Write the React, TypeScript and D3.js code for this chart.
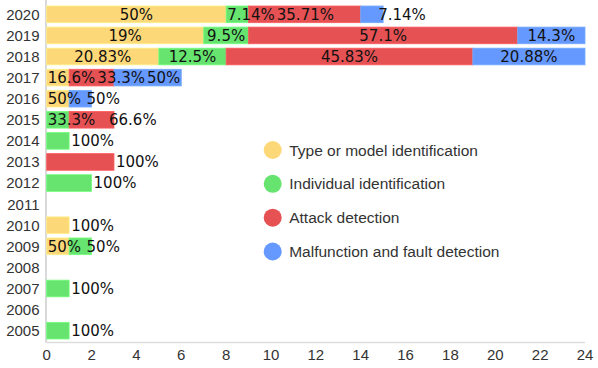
import React, { useEffect, useRef } from 'react';
import * as d3 from 'd3';

const years = ['2020', '2019', '2018', '2017', '2016', '2015', '2014', '2013', '2012', '2011', '2010', '2009', '2008', '2007', '2006', '2005'];

const seriesNames = ['Type or model identification', 'Individual identification', 'Attack detection', 'Malfunction and fault detection'];
const seriesColors = ['#fdd878', '#66e46f', '#e65154', '#6699ff'];

const typeModel = [8, 7, 5, 1, 1, 0, 0, 0, 0, 0, 1, 1, 0, 0, 0, 0];
const individual = [1, 2, 3, 0, 0, 1, 1, 0, 2, 0, 0, 1, 0, 1, 0, 1];
const attack = [5, 12, 11, 2, 0, 2, 0, 3, 0, 0, 0, 0, 0, 0, 0, 0];
const malfunction = [1, 3, 5, 3, 1, 0, 0, 0, 0, 0, 0, 0, 0, 0, 0, 0];

const typeLabels = ['50%', '19%', '20.83%', '16.6%', '50%', '', '', '', '', '', '100%', '50%', '', '', '', ''];
const indivLabels = ['7.14%', '9.5%', '12.5%', '', '', '33.3%', '100%', '', '100%', '', '', '50%', '', '100%', '', '100%'];
const attackLabels = ['35.71%', '57.1%', '45.83%', '33.3%', '', '66.6%', '', '100%', '', '', '', '', '', '', '', ''];
const malfLabels = ['7.14%', '14.3%', '20.88%', '50%', '50%', '', '', '', '', '', '', '', '', '', '', ''];

const xTicks = [0, 2, 4, 6, 8, 10, 12, 14, 16, 18, 20, 22, 24];

const W = 598;
const H = 368;

const App = () => {
  const svgRef = useRef<SVGSVGElement>(null);

  useEffect(() => {
    const svg = d3.select(svgRef.current);
    svg.selectAll('*').remove();

    const values = [typeModel, individual, attack, malfunction];
    const labels = [typeLabels, indivLabels, attackLabels, malfLabels];

    const x = d3.scaleLinear().domain([0, 24]).range([46.7, 585]);
    const y = d3.scaleBand().domain(years).range([3.8, 341.2]).paddingInner(0.21).paddingOuter(0.105);

    // axis lines
    svg.append('line')
      .attr('x1', 46).attr('x2', 46).attr('y1', 0).attr('y2', 342.5)
      .attr('stroke', '#cccccc').attr('stroke-width', 1.5);
    svg.append('line')
      .attr('x1', 46).attr('x2', 585).attr('y1', 342.5).attr('y2', 342.5)
      .attr('stroke', '#dddddd').attr('stroke-width', 1.5);

    // stacked segments per year
    const rows = years.map((yr, i) => {
      let acc = 0;
      const segs = values.map((arr, k) => {
        const s = { k, x0: acc, x1: acc + arr[i], label: labels[k][i] };
        acc += arr[i];
        return s;
      }).filter(s => s.x1 > s.x0);
      return { yr, segs };
    });

    const bars = svg.append('g');
    rows.forEach(r => {
      bars.selectAll(null)
        .data(r.segs)
        .join('rect')
        .attr('x', d => x(d.x0))
        .attr('width', d => x(d.x1) - x(d.x0))
        .attr('y', y(r.yr)!)
        .attr('height', y.bandwidth())
        .attr('fill', d => seriesColors[d.k])
        .attr('stroke', d => d3.color(seriesColors[d.k])!.brighter(0.3).toString())
        .attr('stroke-width', 0.8);
    });

    // value labels
    const lab = svg.append('g')
      .style('font-family', "'DejaVu Sans', sans-serif")
      .style('font-size', '15px')
      .attr('fill', '#111');
    rows.forEach(r => {
      let prevEnd = -Infinity;
      const cy = y(r.yr)! + y.bandwidth() / 2;
      const n = r.segs.length;
      r.segs.forEach((s, j) => {
        if (!s.label) return;
        const t = lab.append('text')
          .attr('dy', '0.36em')
          .attr('y', cy)
          .text(s.label);
        const tw = (t.node() as SVGTextElement).getComputedTextLength();
        const a = x(s.x0), b = x(s.x1);
        let start: number;
        if (n === 1) start = b + 2;
        else if (tw <= b - a - 6) start = (a + b) / 2 - tw / 2;
        else if (j === n - 1) start = Math.max(a + 2, b - 5);
        else start = a + 1;
        if (start < prevEnd + 2) start = prevEnd + 2;
        t.attr('x', start);
        prevEnd = start + tw;
      });
    });

    // year labels
    svg.append('g')
      .style('font-family', "'Liberation Sans', Arial, sans-serif")
      .style('font-size', '15px')
      .attr('fill', '#333')
      .attr('text-anchor', 'end')
      .selectAll('text')
      .data(years)
      .join('text')
      .attr('x', 39.5)
      .attr('y', d => y(d)! + y.bandwidth() / 2)
      .attr('dy', '0.36em')
      .text(d => d);

    // x ticks
    svg.append('g')
      .style('font-family', "'Liberation Sans', Arial, sans-serif")
      .style('font-size', '15px')
      .attr('fill', '#333')
      .attr('text-anchor', 'middle')
      .selectAll('text')
      .data(xTicks)
      .join('text')
      .attr('x', d => x(d))
      .attr('y', 360)
      .text(d => d);

    // legend
    const leg = svg.append('g')
      .style('font-family', "'Liberation Sans', Arial, sans-serif")
      .style('font-size', '15.5px');
    const legY = d3.scalePoint().domain(seriesNames).range([150, 251.5]);
    const items = leg.selectAll('g')
      .data(seriesNames)
      .join('g')
      .attr('transform', d => `translate(272.7,${legY(d)})`);
    items.append('circle')
      .attr('r', 9)
      .attr('fill', (d, i) => seriesColors[i]);
    items.append('text')
      .attr('x', 16.5)
      .attr('dy', '0.36em')
      .attr('fill', '#333')
      .text(d => d);
  }, []);

  return <svg ref={svgRef} width={W} height={H} style={{ position: 'absolute', left: 0, top: 0 }} />;
};

export default App;
